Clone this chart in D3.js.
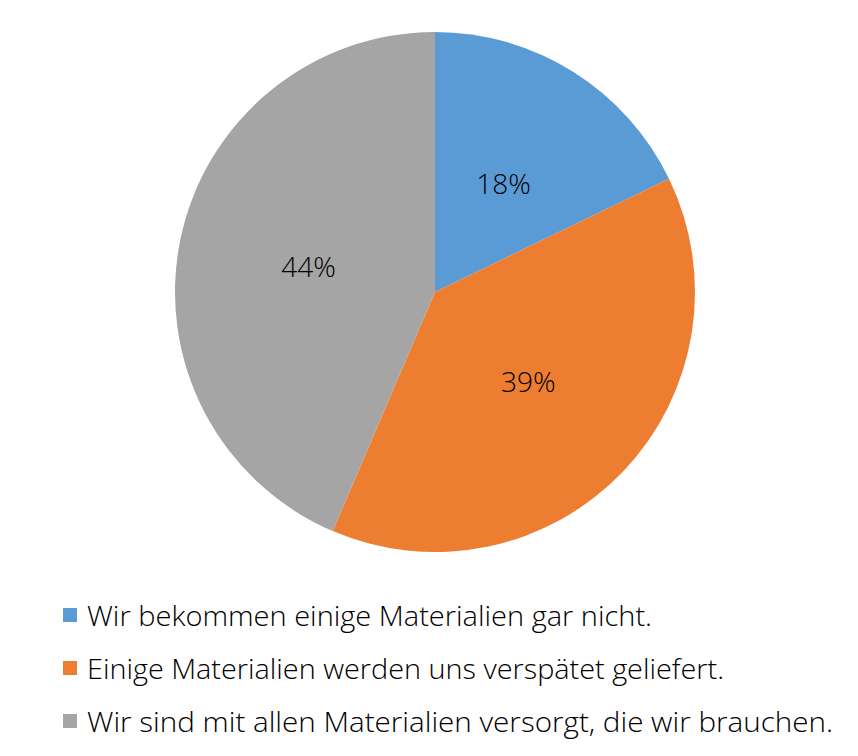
<!DOCTYPE html>
<html>
<head>
<meta charset="utf-8">
<script src="https://cdn.jsdelivr.net/npm/d3@7"></script>
<style>
  html, body { margin: 0; padding: 0; background: #fff; }
  text { font-family: "Open Sans", "Noto Sans", sans-serif; fill: #000; }
</style>
</head>
<body>
<div id="chart"></div>
<script>
// Chart data
const categories = [
    "Wir bekommen einige Materialien gar nicht.",
    "Einige Materialien werden uns verspätet geliefert.",
    "Wir sind mit allen Materialien versorgt, die wir brauchen."
];
const values = [18, 39, 44];
const labels = ["18%", "39%", "44%"];
const colors = ["#5B9BD5", "#ED7D31", "#A5A5A5"];

// Set svg size
const svgWidth = 858;
const svgHeight = 756;

// Pie geometry
const center = { x: 435, y: 292 };
const radius = 260;

const svg = d3.select("#chart")
              .append("svg")
              .attr("width", svgWidth)
              .attr("height", svgHeight);

const pieGroup = svg.append("g")
                    .attr("transform", `translate(${center.x}, ${center.y})`);

const pie = d3.pie().sort(null).value(d => d);
const arcs = pie(values);

const arc = d3.arc().innerRadius(0).outerRadius(radius);
const labelArc = d3.arc().innerRadius(0).outerRadius(258);

// Render slices
pieGroup.selectAll("path")
        .data(arcs)
        .enter()
        .append("path")
        .attr("d", arc)
        .attr("fill", (d, i) => colors[i]);

// Render percentage labels
pieGroup.selectAll("text")
        .data(arcs)
        .enter()
        .append("text")
        .text((d, i) => labels[i])
        .attr("x", d => labelArc.centroid(d)[0])
        .attr("y", d => labelArc.centroid(d)[1])
        .attr("text-anchor", "middle")
        .attr("dominant-baseline", "central")
        .style("font-size", "28px")
        .style("font-weight", 300);

// Render legend
const legendRows = [615, 668, 721];
const legendWidths = [565, 637, 746];
const legend = svg.append("g");

const items = legend.selectAll("g")
                    .data(categories)
                    .enter()
                    .append("g")
                    .attr("transform", (d, i) => `translate(63, ${legendRows[i]})`);

items.append("rect")
     .attr("x", 0)
     .attr("y", -7)
     .attr("width", 14)
     .attr("height", 14)
     .attr("fill", (d, i) => colors[i]);

items.append("text")
     .text(d => d)
     .attr("x", 24)
     .attr("y", 0)
     .attr("dominant-baseline", "central")
     .attr("textLength", (d, i) => legendWidths[i])
     .attr("lengthAdjust", "spacingAndGlyphs")
     .style("font-size", "27px")
     .style("font-weight", 300);
</script>
</body>
</html>
